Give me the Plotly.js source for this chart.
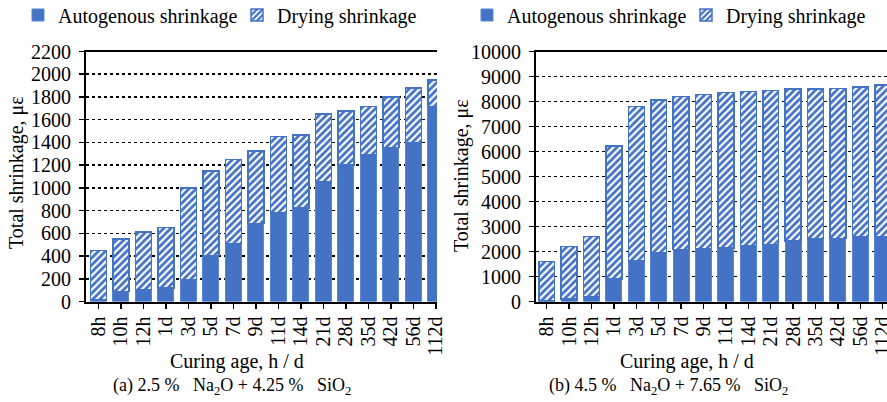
<!DOCTYPE html>
<html>
<head>
<meta charset="utf-8">
<script src="https://cdn.plot.ly/plotly-3.0.1.min.js"></script>
<style>html,body{margin:0;padding:0;background:#fff;}#chart{width:887px;height:402px;}</style>
</head>
<body>
<div id="chart"></div>
<script>
// Categories (curing age)
var categories = ["8h","10h","12h","1d","3d","5d","7d","9d","11d","14d","21d","28d","35d","42d","56d","112d"];

// (a) 2.5 % Na2O + 4.25 % SiO2  (values in microstrain)
var autogenousA = [15, 90, 105, 120, 190, 405, 510, 685, 780, 825, 1050, 1200, 1295, 1355, 1400, 1715];
var dryingA     = [435, 460, 505, 530, 810, 745, 740, 640, 670, 640, 600, 475, 420, 445, 480, 235];

// (b) 4.5 % Na2O + 7.65 % SiO2
var autogenousB = [20, 100, 180, 900, 1630, 1950, 2080, 2120, 2150, 2250, 2290, 2420, 2520, 2520, 2600, 2600];
var dryingB     = [1580, 2100, 2420, 5330, 6170, 6120, 6120, 6170, 6210, 6150, 6150, 6090, 5990, 6010, 5980, 6070];

var seriesNames = ["Autogenous shrinkage", "Drying shrinkage"];
var yTicksA = [0,200,400,600,800,1000,1200,1400,1600,1800,2000,2200];
var yTicksB = [0,1000,2000,3000,4000,5000,6000,7000,8000,9000,10000];

var W = 887, H = 402;
function px(x){ return x / W; }
function py(y){ return 1 - y / H; }

var FONT = "'Liberation Serif', 'Times New Roman', Times, serif";
var BLUE = "#4472C4";

function solid(x, y, xa, ya, leg){
  return {type:"bar", x:x, y:y, xaxis:xa, yaxis:ya, name:seriesNames[0], legend:leg, showlegend:true,
    marker:{color:BLUE, line:{color:"#5B86D3", width:1}}, hoverinfo:"x+y"};
}
function hatched(x, y, xa, ya, leg){
  return {type:"bar", x:x, y:y, xaxis:xa, yaxis:ya, name:seriesNames[1], legend:leg, showlegend:true,
    marker:{color:"white", line:{color:BLUE, width:1.5},
      pattern:{shape:"/", fgcolor:BLUE, bgcolor:"white", size:5, solidity:0.55}},
    hoverinfo:"x+y"};
}

var data = [
  solid(categories, autogenousA, "x", "y", "legend"),
  hatched(categories, dryingA, "x", "y", "legend"),
  solid(categories, autogenousB, "x2", "y2", "legend2"),
  hatched(categories, dryingB, "x2", "y2", "legend2")
];

var yDom = [py(301.5), py(51.5)];

function xAxis(dom, rng, anchor){
  return {domain:dom, range:rng, anchor:anchor, type:"category",
    tickmode:"array", tickvals:categories, ticktext:categories,
    showline:true, linecolor:"black", linewidth:2, mirror:true,
    ticks:"outside", ticklen:5, tickwidth:1.5, tickcolor:"black",
    tickangle:-90, tickfont:{family:FONT, size:20, color:"black"},
    showgrid:false, zeroline:false, fixedrange:true, automargin:false};
}
function yAxis(rng, anchor, vals){
  return {domain:yDom, range:rng, anchor:anchor, tickmode:"array", tickvals:vals,
    ticktext:vals.map(String),
    showline:true, linecolor:"black", linewidth:2,
    ticks:"outside", ticklen:5, tickwidth:1.5, tickcolor:"black",
    ticklabelstandoff:4,
    tickfont:{family:FONT, size:20, color:"black"},
    showgrid:true, gridcolor:"black", gridwidth:1.5, griddash:"dot",
    zeroline:false, fixedrange:true, automargin:false};
}

var annFont = {family:FONT, size:20, color:"black"};
var legFont = {family:FONT, size:20, color:"black"};
var layout = {
  width:W, height:H,
  margin:{l:0, r:0, t:0, b:0, autoexpand:false},
  paper_bgcolor:"white", plot_bgcolor:"white",
  barmode:"stack", bargap:0.29,
  font:{family:FONT, color:"black"},
  xaxis: xAxis([px(86), px(437)], [-0.547, 15.05], "y"),
  yaxis: yAxis([0, 2200], "x", yTicksA),
  xaxis2: xAxis([px(536), 1], [-0.478, 15.19], "y2"),
  yaxis2: yAxis([0, 10000], "x2", yTicksB),
  legend:{orientation:"h", x:px(18), xanchor:"left", y:py(15), yanchor:"middle",
    font:legFont, bgcolor:"rgba(0,0,0,0)", traceorder:"normal",
    itemwidth:30, entrywidth:174, entrywidthmode:"pixels"},
  legend2:{orientation:"h", x:px(467), xanchor:"left", y:py(15), yanchor:"middle",
    font:legFont, bgcolor:"rgba(0,0,0,0)", traceorder:"normal",
    itemwidth:30, entrywidth:174, entrywidthmode:"pixels"},
  annotations:[
    {text:"Total shrinkage, \u03bc\u03b5", x:px(16), y:py(173), xref:"paper", yref:"paper",
      textangle:-90, showarrow:false, font:annFont, xanchor:"center", yanchor:"middle"},
    {text:"Total shrinkage, \u03bc\u03b5", x:px(462), y:py(175), xref:"paper", yref:"paper",
      textangle:-90, showarrow:false, font:annFont, xanchor:"center", yanchor:"middle"},
    {text:"Curing age, h / d", x:px(237), y:py(361), xref:"paper", yref:"paper",
      showarrow:false, font:annFont, xanchor:"center", yanchor:"middle"},
    {text:"Curing age, h / d", x:px(687), y:py(361), xref:"paper", yref:"paper",
      showarrow:false, font:annFont, xanchor:"center", yanchor:"middle"},
    {text:"(a) 2.5 %\u00a0\u00a0\u00a0Na<sub>2</sub>O + 4.25 %\u00a0\u00a0\u00a0SiO<sub>2</sub>", x:px(232), y:py(386), xref:"paper", yref:"paper",
      showarrow:false, font:{family:FONT, size:18, color:"black"}, xanchor:"center", yanchor:"middle"},
    {text:"(b) 4.5 %\u00a0\u00a0\u00a0Na<sub>2</sub>O + 7.65 %\u00a0\u00a0\u00a0SiO<sub>2</sub>", x:px(668), y:py(386), xref:"paper", yref:"paper",
      showarrow:false, font:{family:FONT, size:18, color:"black"}, xanchor:"center", yanchor:"middle"}
  ]
};

Plotly.newPlot("chart", data, layout, {displayModeBar:false, staticPlot:true});
</script>
</body>
</html>
